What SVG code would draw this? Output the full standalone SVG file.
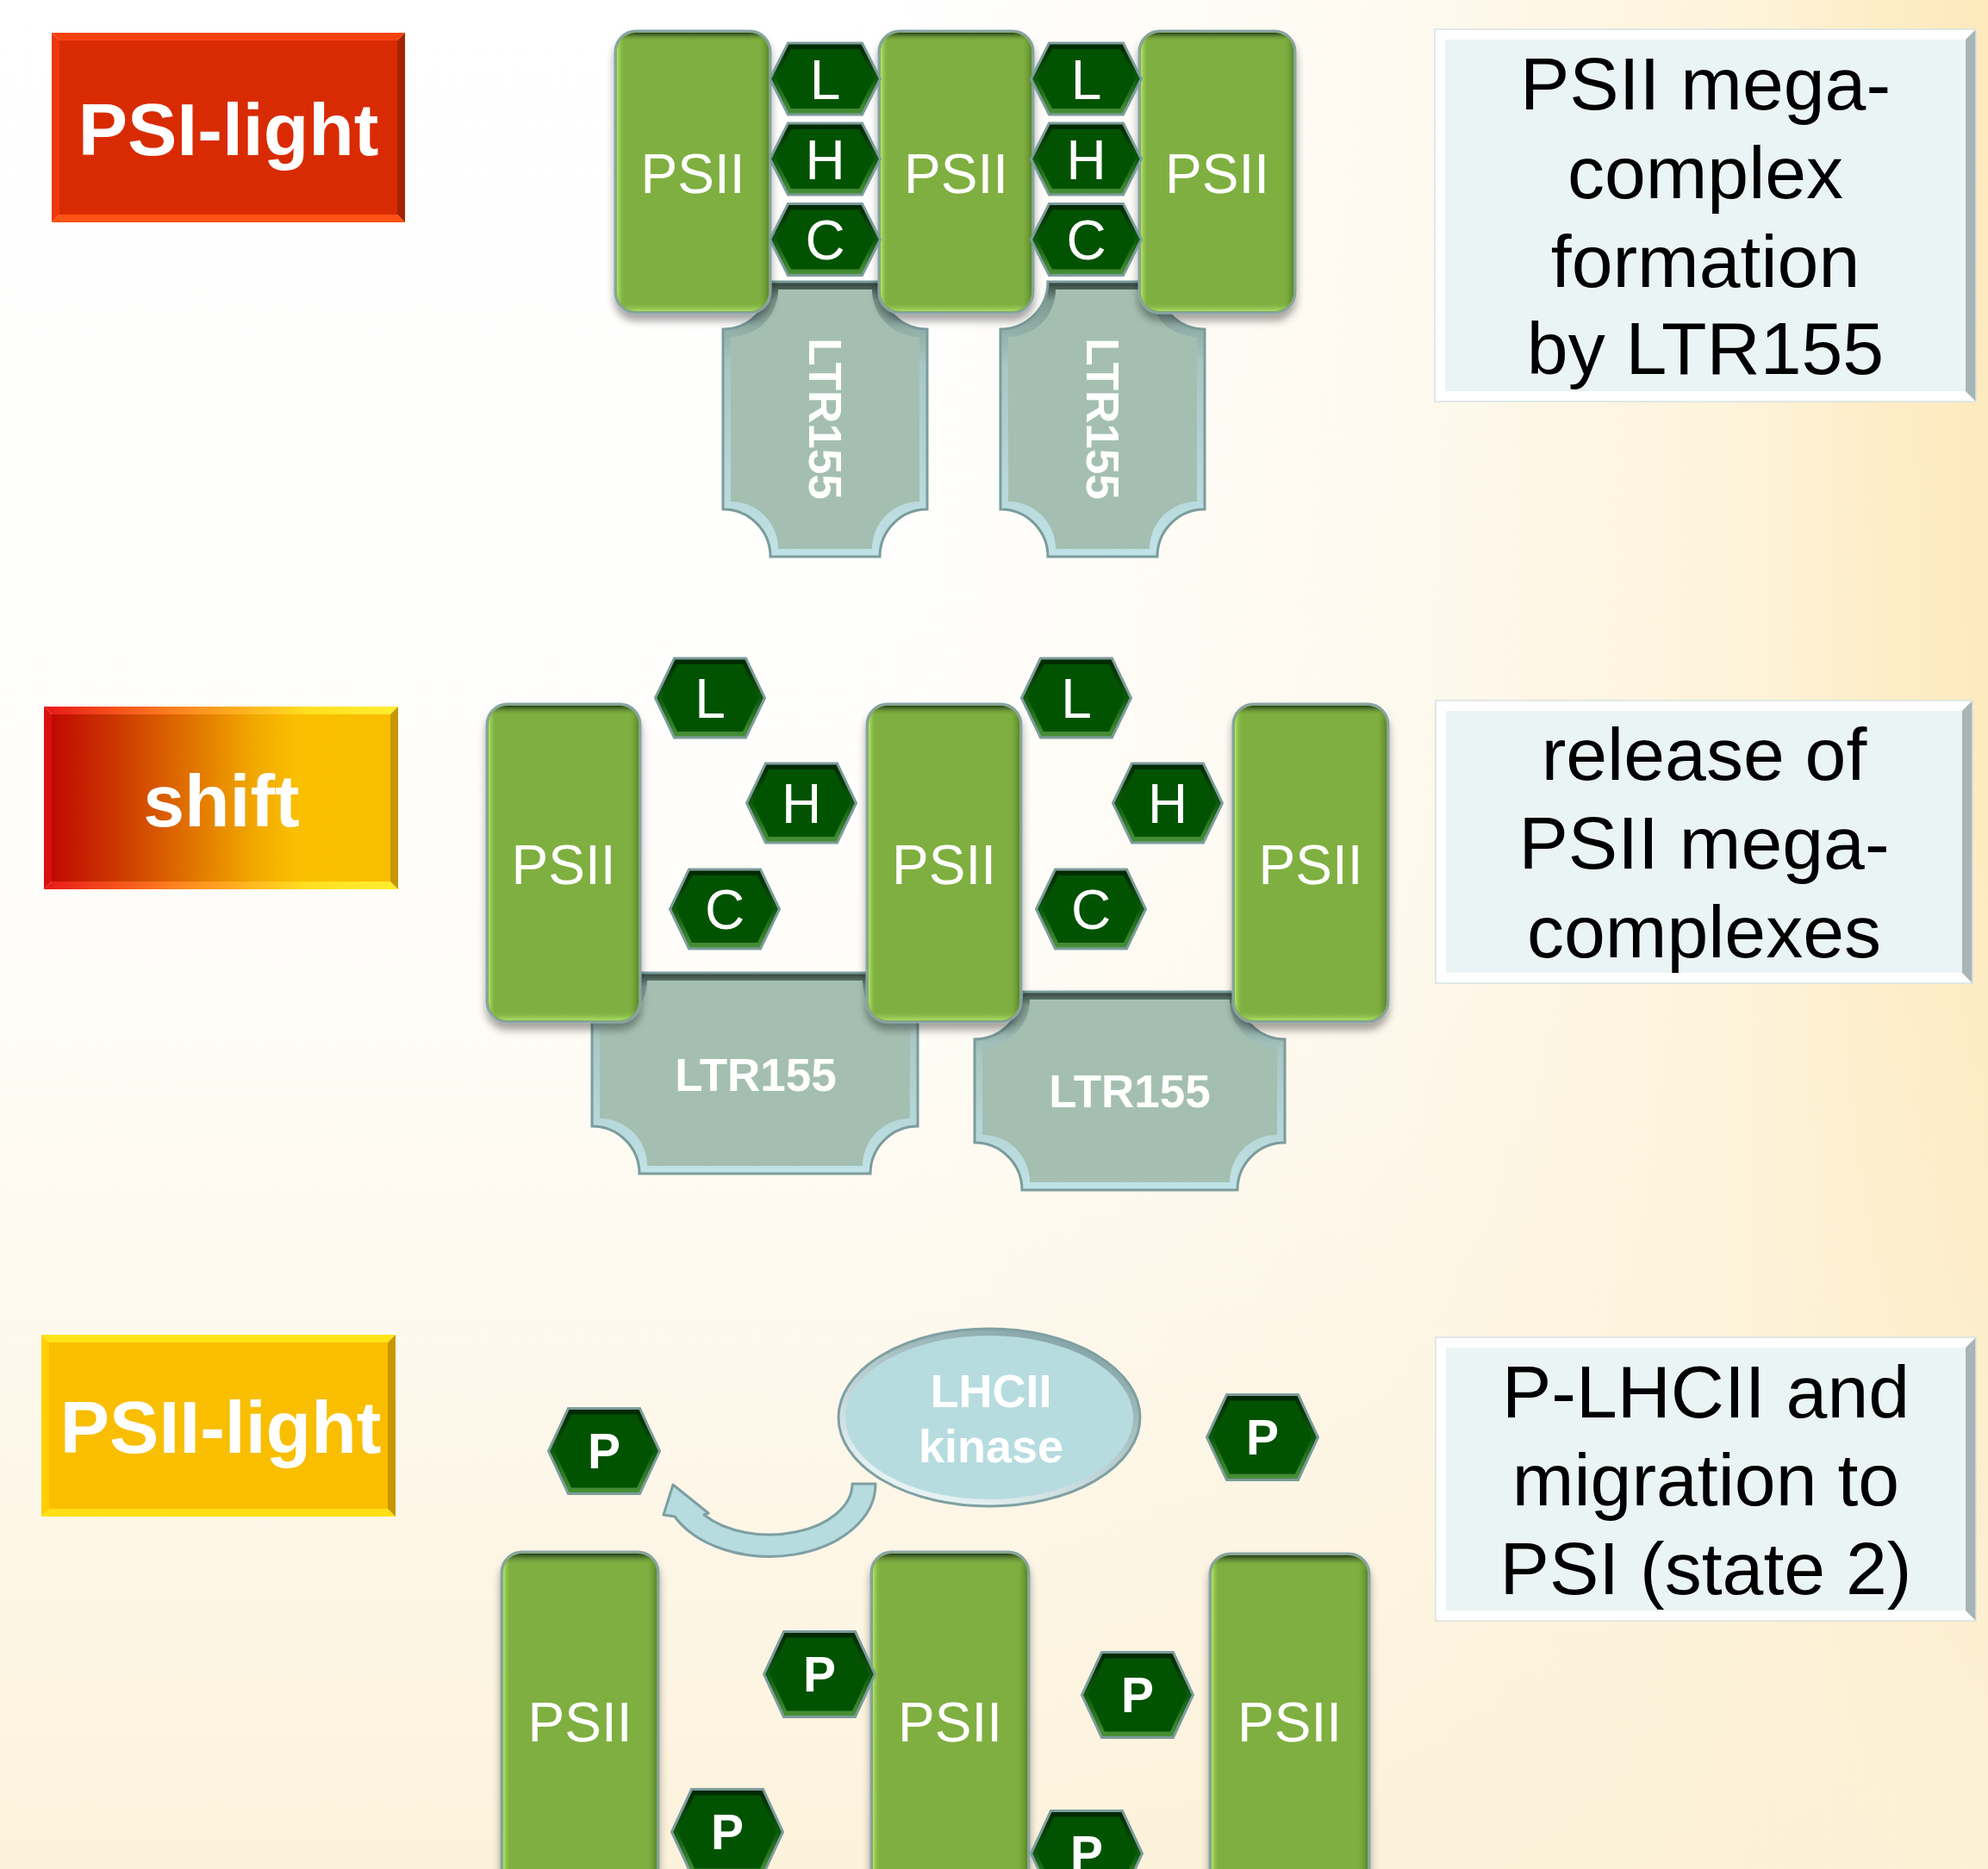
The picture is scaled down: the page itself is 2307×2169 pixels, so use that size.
<svg xmlns="http://www.w3.org/2000/svg" xmlns:xlink="http://www.w3.org/1999/xlink" width="2307" height="2169" viewBox="0 0 2307 2169">
<defs>
<linearGradient id="gBgH" x1="0" y1="0" x2="1" y2="0">
<stop offset="0" stop-color="#FFFFFF"/><stop offset="0.45" stop-color="#FFFFFF"/><stop offset="0.7" stop-color="#FEFAF1"/><stop offset="0.88" stop-color="#FEF3DA"/><stop offset="0.94" stop-color="#FEEDC7"/><stop offset="1" stop-color="#FDE9BC"/>
</linearGradient>
<linearGradient id="gBgV" x1="0" y1="0" x2="0" y2="1">
<stop offset="0" stop-color="#FDF3DC" stop-opacity="0"/><stop offset="0.45" stop-color="#FDF3DC" stop-opacity="0.1"/><stop offset="1" stop-color="#FCF1D8" stop-opacity="0.9"/>
</linearGradient>
<linearGradient id="gPsH" x1="0" y1="0" x2="1" y2="0">
<stop offset="0" stop-color="#B8EA6C" stop-opacity="0.95"/><stop offset="0.05" stop-color="#7FAF3F" stop-opacity="0"/><stop offset="0.93" stop-color="#7FAF3F" stop-opacity="0"/><stop offset="1" stop-color="#4A7420" stop-opacity="0.7"/>
</linearGradient>
<linearGradient id="gPsV" x1="0" y1="0" x2="0" y2="1">
<stop offset="0" stop-color="#1E3318" stop-opacity="0.95"/><stop offset="0.03" stop-color="#7FAF3F" stop-opacity="0"/><stop offset="0.97" stop-color="#7FAF3F" stop-opacity="0"/><stop offset="1" stop-color="#B4E46A" stop-opacity="0.9"/>
</linearGradient>
<linearGradient id="gHex" x1="0" y1="0" x2="0" y2="1">
<stop offset="0" stop-color="#002600"/><stop offset="0.5" stop-color="#0E5A0E"/><stop offset="1" stop-color="#4A9238"/>
</linearGradient>
<linearGradient id="gLtr" x1="0" y1="0" x2="0" y2="1">
<stop offset="0" stop-color="#2E4038"/><stop offset="0.07" stop-color="#7E9A90"/><stop offset="0.3" stop-color="#A8C6C2"/><stop offset="1" stop-color="#C0E3E8"/>
</linearGradient>
<linearGradient id="gEll" x1="0.8" y1="0" x2="0.2" y2="1">
<stop offset="0" stop-color="#7FA0A2"/><stop offset="1" stop-color="#F0FAFB"/>
</linearGradient>
<linearGradient id="gShift" x1="0" y1="0" x2="1" y2="0">
<stop offset="0" stop-color="#C00A00"/><stop offset="0.2" stop-color="#CC3A02"/><stop offset="0.4" stop-color="#E07000"/><stop offset="0.6" stop-color="#F2A800"/><stop offset="0.72" stop-color="#F9BF00"/><stop offset="1" stop-color="#F8BE00"/>
</linearGradient>
<linearGradient id="gShiftE" x1="0" y1="0" x2="1" y2="0">
<stop offset="0" stop-color="#E81818"/><stop offset="0.4" stop-color="#FF8A20"/><stop offset="0.75" stop-color="#FFE020"/><stop offset="1" stop-color="#FFEE30"/>
</linearGradient>
<filter id="sh" x="-20%" y="-10%" width="140%" height="130%">
<feDropShadow dx="0" dy="8" stdDeviation="5" flood-color="#000000" flood-opacity="0.35"/>
</filter>
<g id="hexA"><polygon class="hx" points="-64,0 -43,-41.5 43,-41.5 64,0 43,41.5 -43,41.5"/><polygon class="hi" points="-57,0 -39.5,-34.5 39.5,-34.5 57,0 39.5,34.5 -39.5,34.5"/></g>
<g id="hexB"><polygon class="hx" points="-63.5,0 -41.5,-46 41.5,-46 63.5,0 41.5,46 -41.5,46"/><polygon class="hi" points="-56.5,0 -38,-39 38,-39 56.5,0 38,39 -38,39"/></g>
<g id="hexC"><polygon class="hx" points="-64.5,0 -41.5,-49.5 41.5,-49.5 64.5,0 41.5,49.5 -41.5,49.5"/><polygon class="hi" points="-57.5,0 -38,-42.5 38,-42.5 57.5,0 38,42.5 -38,42.5"/></g>
</defs>
<style>
.lbl{font-family:"Liberation Sans",Arial,sans-serif;font-weight:bold;font-size:86px;fill:#FFFFFF;text-anchor:middle}
.ps{fill:#7FAF3F;stroke:#88A3A3;stroke-width:3}
.psH{fill:url(#gPsH)}
.psV{fill:url(#gPsV)}
.pt{font-family:"Liberation Sans",Arial,sans-serif;font-size:64px;fill:#FFFFFF;text-anchor:middle}
.hx{fill:url(#gHex);stroke:#7D9C9C;stroke-width:3}
.hi{fill:#015301}
.pb{font-family:"Liberation Sans",Arial,sans-serif;font-weight:bold;font-size:57px;fill:#FFFFFF;text-anchor:middle}
.lt{fill:url(#gLtr);stroke:#7B9C9C;stroke-width:3}
.li{fill:#A4BFB1}
.ltt{font-family:"Liberation Sans",Arial,sans-serif;font-weight:bold;font-size:53px;fill:#FFFFFF;text-anchor:middle}
.tb{font-family:"Liberation Sans",Arial,sans-serif;font-size:86px;fill:#000000;text-anchor:middle}
.bxC{fill:#EBF4F4}
.bxL{fill:#FFFFFF}
.bxR{fill:#A8B5B6}
.bxO{fill:none;stroke:#D6E2E2;stroke-width:1.5}
.arw{fill:#B6DCE0;stroke:#7E9FA3;stroke-width:3;stroke-linejoin:round}
</style>

<rect x="0" y="0" width="2307" height="2169" fill="url(#gBgH)"/>
<rect x="0" y="0" width="2307" height="2169" fill="url(#gBgV)"/>

<!-- left labels -->
<g id="label-psi-light" transform="translate(60,38)">
<rect x="9" y="9" width="392" height="202" fill="#D92B03"/>
<polygon points="0,0 410,0 401,9 9,9" fill="#F4420F"/>
<polygon points="0,220 410,220 401,211 9,211" fill="#FF5214"/>
<polygon points="0,0 9,9 9,211 0,220" fill="#EC380A"/>
<polygon points="410,0 401,9 401,211 410,220" fill="#A42400"/>
<text class="lbl" x="205" y="142">PSI-light</text>
</g>
<g id="label-shift" transform="translate(51,820)">
<rect x="9" y="9" width="393" height="194" fill="url(#gShift)"/>
<polygon points="0,0 411,0 402,9 9,9" fill="url(#gShiftE)"/>
<polygon points="0,212 411,212 402,203 9,203" fill="url(#gShiftE)"/>
<polygon points="0,0 9,9 9,203 0,212" fill="#D81010"/>
<polygon points="411,0 402,9 402,203 411,212" fill="#C89600"/>
<text class="lbl" x="206" y="139">shift</text>
</g>
<g id="label-psii-light" transform="translate(48,1549)">
<rect x="9" y="9" width="393" height="193" fill="#F9BE00"/>
<polygon points="0,0 411,0 402,9 9,9" fill="#FFE418"/>
<polygon points="0,211 411,211 402,202 9,202" fill="#FFE014"/>
<polygon points="0,0 9,9 9,202 0,211" fill="#FFCE00"/>
<polygon points="411,0 402,9 402,202 411,211" fill="#C89600"/>
<text class="lbl" x="208" y="137">PSII-light</text>
</g>

<!-- right text boxes -->
<g id="text-mega-formation" transform="translate(1665,34)">
<rect class="bxC" x="12" y="12" width="604" height="408"/>
<polygon class="bxL" points="0,0 628,0 616,12 12,12"/>
<polygon class="bxL" points="0,432 628,432 616,420 12,420"/>
<polygon class="bxL" points="0,0 12,12 12,420 0,432"/>
<polygon class="bxR" points="628,0 616,12 616,420 628,432"/>
<rect class="bxO" x="0" y="0" width="628" height="432"/>
<text class="tb" x="314" y="93">PSII mega-</text>
<text class="tb" x="314" y="196">complex</text>
<text class="tb" x="314" y="299">formation</text>
<text class="tb" x="314" y="400">by LTR155</text>
</g>
<g id="text-release" transform="translate(1666,813)">
<rect class="bxC" x="12" y="12" width="599" height="304"/>
<polygon class="bxL" points="0,0 623,0 611,12 12,12"/>
<polygon class="bxL" points="0,328 623,328 611,316 12,316"/>
<polygon class="bxL" points="0,0 12,12 12,316 0,328"/>
<polygon class="bxR" points="623,0 611,12 611,316 623,328"/>
<rect class="bxO" x="0" y="0" width="623" height="328"/>
<text class="tb" x="311.5" y="92">release of</text>
<text class="tb" x="311.5" y="195">PSII mega-</text>
<text class="tb" x="311.5" y="298">complexes</text>
</g>
<g id="text-migration" transform="translate(1666,1552)">
<rect class="bxC" x="12" y="12" width="603" height="305"/>
<polygon class="bxL" points="0,0 627,0 615,12 12,12"/>
<polygon class="bxL" points="0,329 627,329 615,317 12,317"/>
<polygon class="bxL" points="0,0 12,12 12,317 0,329"/>
<polygon class="bxR" points="627,0 615,12 615,317 627,329"/>
<rect class="bxO" x="0" y="0" width="627" height="329"/>
<text class="tb" x="313.5" y="93">P-LHCII and</text>
<text class="tb" x="313.5" y="195">migration to</text>
<text class="tb" x="313.5" y="298">PSI (state 2)</text>
</g>

<!-- row 1 -->
<g id="r1-ltr155-a">
<path class="lt" d="M894,327 H1021 A55 55 0 0 0 1076,382 V591 A55 55 0 0 0 1021,646 H894 A55 55 0 0 0 839,591 V382 A55 55 0 0 0 894,327 Z"/>
<path class="li" d="M903,336 H1012 A55 55 0 0 0 1067,391 V582 A55 55 0 0 0 1012,637 H903 A55 55 0 0 0 848,582 V391 A55 55 0 0 0 903,336 Z"/>
<text class="ltt" transform="translate(957.5,486) rotate(90)" x="0" y="19">LTR155</text>
</g>
<g id="r1-ltr155-b">
<path class="lt" d="M1216,327 H1343 A55 55 0 0 0 1398,382 V591 A55 55 0 0 0 1343,646 H1216 A55 55 0 0 0 1161,591 V382 A55 55 0 0 0 1216,327 Z"/>
<path class="li" d="M1225,336 H1334 A55 55 0 0 0 1389,391 V582 A55 55 0 0 0 1334,637 H1225 A55 55 0 0 0 1170,582 V391 A55 55 0 0 0 1225,336 Z"/>
<text class="ltt" transform="translate(1279.5,486) rotate(90)" x="0" y="19">LTR155</text>
</g>
<g id="r1-psii-1">
<rect class="ps" filter="url(#sh)" x="714" y="36" width="180" height="327" rx="24"/>
<rect class="psH" x="716" y="38" width="176" height="323" rx="22"/>
<rect class="psV" x="716" y="38" width="176" height="323" rx="22"/>
<text class="pt" x="804" y="224">PSII</text>
</g>
<g id="r1-psii-2">
<rect class="ps" filter="url(#sh)" x="1020" y="36" width="179" height="327" rx="24"/>
<rect class="psH" x="1022" y="38" width="175" height="323" rx="22"/>
<rect class="psV" x="1022" y="38" width="175" height="323" rx="22"/>
<text class="pt" x="1109.5" y="224">PSII</text>
</g>
<g id="r1-psii-3">
<rect class="ps" filter="url(#sh)" x="1322" y="36" width="181" height="327" rx="24"/>
<rect class="psH" x="1324" y="38" width="177" height="323" rx="22"/>
<rect class="psV" x="1324" y="38" width="177" height="323" rx="22"/>
<text class="pt" x="1412.5" y="224">PSII</text>
</g>
<g id="r1-hex-L1"><use xlink:href="#hexA" href="#hexA" x="957.5" y="91.5"/><text class="pt" x="957.5" y="114.5">L</text></g>
<g id="r1-hex-H1"><use xlink:href="#hexA" href="#hexA" x="957.5" y="184.5"/><text class="pt" x="957.5" y="207.5">H</text></g>
<g id="r1-hex-C1"><use xlink:href="#hexA" href="#hexA" x="957.5" y="278"/><text class="pt" x="957.5" y="301">C</text></g>
<g id="r1-hex-L2"><use xlink:href="#hexA" href="#hexA" x="1260.5" y="91.5"/><text class="pt" x="1260.5" y="114.5">L</text></g>
<g id="r1-hex-H2"><use xlink:href="#hexA" href="#hexA" x="1260.5" y="184.5"/><text class="pt" x="1260.5" y="207.5">H</text></g>
<g id="r1-hex-C2"><use xlink:href="#hexA" href="#hexA" x="1260.5" y="278"/><text class="pt" x="1260.5" y="301">C</text></g>

<!-- row 2 -->
<g id="r2-ltr155-a">
<path class="lt" d="M742,1129 H1010 A55 55 0 0 0 1065,1184 V1307 A55 55 0 0 0 1010,1362 H742 A55 55 0 0 0 687,1307 V1184 A55 55 0 0 0 742,1129 Z"/>
<path class="li" d="M751,1138 H1001 A55 55 0 0 0 1056,1193 V1298 A55 55 0 0 0 1001,1353 H751 A55 55 0 0 0 696,1298 V1193 A55 55 0 0 0 751,1138 Z"/>
<text class="ltt" x="877" y="1266">LTR155</text>
</g>
<g id="r2-ltr155-b">
<path class="lt" d="M1186,1151 H1436 A55 55 0 0 0 1491,1206 V1326 A55 55 0 0 0 1436,1381 H1186 A55 55 0 0 0 1131,1326 V1206 A55 55 0 0 0 1186,1151 Z"/>
<path class="li" d="M1195,1160 H1427 A55 55 0 0 0 1482,1215 V1317 A55 55 0 0 0 1427,1372 H1195 A55 55 0 0 0 1140,1317 V1215 A55 55 0 0 0 1195,1160 Z"/>
<text class="ltt" x="1311" y="1285">LTR155</text>
</g>
<g id="r2-psii-1">
<rect class="ps" filter="url(#sh)" x="565" y="817" width="178" height="369" rx="24"/>
<rect class="psH" x="567" y="819" width="174" height="365" rx="22"/>
<rect class="psV" x="567" y="819" width="174" height="365" rx="22"/>
<text class="pt" x="654" y="1026">PSII</text>
</g>
<g id="r2-psii-2">
<rect class="ps" filter="url(#sh)" x="1006" y="817" width="179" height="369" rx="24"/>
<rect class="psH" x="1008" y="819" width="175" height="365" rx="22"/>
<rect class="psV" x="1008" y="819" width="175" height="365" rx="22"/>
<text class="pt" x="1095.5" y="1026">PSII</text>
</g>
<g id="r2-psii-3">
<rect class="ps" filter="url(#sh)" x="1431" y="817" width="180" height="369" rx="24"/>
<rect class="psH" x="1433" y="819" width="176" height="365" rx="22"/>
<rect class="psV" x="1433" y="819" width="176" height="365" rx="22"/>
<text class="pt" x="1521" y="1026">PSII</text>
</g>
<g id="r2-hex-L1"><use xlink:href="#hexB" href="#hexB" x="824" y="810"/><text class="pt" x="824" y="833">L</text></g>
<g id="r2-hex-H1"><use xlink:href="#hexB" href="#hexB" x="930" y="932"/><text class="pt" x="930" y="955">H</text></g>
<g id="r2-hex-C1"><use xlink:href="#hexB" href="#hexB" x="841" y="1055"/><text class="pt" x="841" y="1078">C</text></g>
<g id="r2-hex-L2"><use xlink:href="#hexB" href="#hexB" x="1249" y="810"/><text class="pt" x="1249" y="833">L</text></g>
<g id="r2-hex-H2"><use xlink:href="#hexB" href="#hexB" x="1355" y="932"/><text class="pt" x="1355" y="955">H</text></g>
<g id="r2-hex-C2"><use xlink:href="#hexB" href="#hexB" x="1266" y="1055"/><text class="pt" x="1266" y="1078">C</text></g>

<!-- row 3 -->
<g id="r3-psii-1">
<rect class="ps" filter="url(#sh)" x="582" y="1801" width="182" height="420" rx="24"/>
<rect class="psH" x="584" y="1803" width="178" height="416" rx="22"/>
<rect class="psV" x="584" y="1803" width="178" height="416" rx="22"/>
<text class="pt" x="673" y="2021">PSII</text>
</g>
<g id="r3-psii-2">
<rect class="ps" filter="url(#sh)" x="1011" y="1801" width="183" height="420" rx="24"/>
<rect class="psH" x="1013" y="1803" width="179" height="416" rx="22"/>
<rect class="psV" x="1013" y="1803" width="179" height="416" rx="22"/>
<text class="pt" x="1102.5" y="2021">PSII</text>
</g>
<g id="r3-psii-3">
<rect class="ps" filter="url(#sh)" x="1404" y="1803" width="185" height="420" rx="24"/>
<rect class="psH" x="1406" y="1805" width="181" height="416" rx="22"/>
<rect class="psV" x="1406" y="1805" width="181" height="416" rx="22"/>
<text class="pt" x="1496.5" y="2021">PSII</text>
</g>
<g id="r3-hex-P1"><use xlink:href="#hexC" href="#hexC" x="701" y="1684"/><text class="pb" x="701" y="1704">P</text></g>
<g id="r3-hex-P2"><use xlink:href="#hexC" href="#hexC" x="1465" y="1668"/><text class="pb" x="1465" y="1688">P</text></g>
<g id="r3-hex-P3"><use xlink:href="#hexC" href="#hexC" x="951" y="1943"/><text class="pb" x="951" y="1963">P</text></g>
<g id="r3-hex-P4"><use xlink:href="#hexC" href="#hexC" x="1320" y="1967"/><text class="pb" x="1320" y="1987">P</text></g>
<g id="r3-hex-P5"><use xlink:href="#hexC" href="#hexC" x="844" y="2126"/><text class="pb" x="844" y="2146">P</text></g>
<g id="r3-hex-P6"><use xlink:href="#hexC" href="#hexC" x="1261" y="2151"/><text class="pb" x="1261" y="2171">P</text></g>
<g id="lhcii-kinase">
<ellipse cx="1148" cy="1645" rx="175" ry="103" fill="url(#gEll)" stroke="#7FA0A2" stroke-width="3"/>
<ellipse cx="1148" cy="1645" rx="167" ry="95" fill="#B7DCE0"/>
<text class="ltt" x="1150" y="1633" style="font-size:54px">LHCII</text>
<text class="ltt" x="1150" y="1697" style="font-size:54px">kinase</text>
</g>

<g id="connectors">
<path class="arw" d="M1016,1722 A123 84 0 0 1 783,1760 L770,1758 L781,1723 L822,1756 L817,1758 A96 59 0 0 0 989,1722 Z"/>
</g>
</svg>
